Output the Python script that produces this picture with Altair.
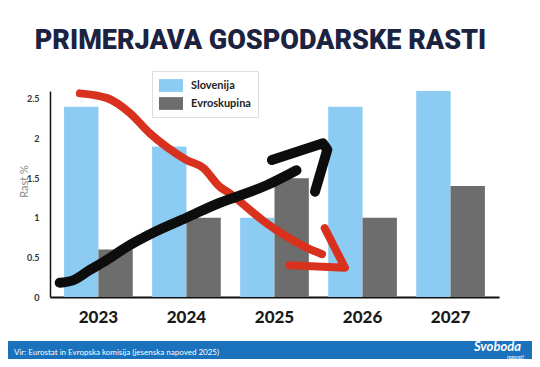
import altair as alt
import pandas as pd

# ---- data ----
years = ["2023", "2024", "2025", "2026", "2027"]
slovenija = [2.4, 1.9, 1.0, 2.4, 2.6]
evroskupina = [0.6, 1.0, 1.5, 1.0, 1.4]
series = ["Slovenija", "Evroskupina"]

# hand-drawn arrows (x in fractional years, y in growth %)
red_x = [2022.79, 2023.10, 2023.36, 2023.58, 2023.78, 2024.00, 2024.19, 2024.38,
         2024.49, 2024.72, 2024.91, 2025.14, 2025.37, 2025.54]
red_y = [2.57, 2.51, 2.32, 2.07, 1.89, 1.73, 1.63, 1.39, 1.31, 1.10, 0.93, 0.76, 0.62, 0.54]
red_head_x = [2025.57, 2025.80, 2025.17]
red_head_y = [0.87, 0.37, 0.40]
black_x = [2022.56, 2022.71, 2022.90, 2023.10, 2023.32, 2023.62, 2024.00, 2024.38,
           2024.53, 2024.91, 2025.25]
black_y = [0.18, 0.21, 0.34, 0.47, 0.63, 0.81, 1.00, 1.19, 1.25, 1.41, 1.60]
black_head_x = [2024.97, 2025.55, 2025.60, 2025.46]
black_head_y = [1.73, 1.94, 1.86, 1.33]

title_text = "PRIMERJAVA GOSPODARSKE RASTI"
source_text = "Vir: Eurostat in Evropska komisija (jesenska napoved 2025)"

# ---- tables ----
bars = pd.DataFrame({
    "leto": years * 2,
    "serija": [series[0]] * len(years) + [series[1]] * len(years),
    "rast": slovenija + evroskupina,
})

def stroke_df(xs, ys, name):
    return pd.DataFrame({"x": xs, "y": ys, "i": list(range(len(xs))), "s": name})

red_body = stroke_df(red_x, red_y, "rb")
red_head = stroke_df(red_head_x, red_head_y, "rh")
black_body = stroke_df(black_x, black_y, "bb")
black_head = stroke_df(black_head_x, black_head_y, "bh")

FONT = "Lato"
yscale = alt.Scale(domain=[0, 2.6], nice=False, zero=True)
xq = alt.Scale(domain=[2022.45, 2027.55], nice=False, zero=False)

bar_layer = alt.Chart(bars).mark_bar().encode(
    x=alt.X("leto:N", sort=years, title=None,
            scale=alt.Scale(paddingInner=0.22, paddingOuter=0.16),
            axis=alt.Axis(labelAngle=0, labelFontSize=17, labelFont=FONT,
                          labelFontWeight=900, labelColor="#1a1a1a",
                          labelPadding=12, ticks=False, domainColor="#111111",
                          domainWidth=2, grid=False)),
    xOffset=alt.XOffset("serija:N", sort=series),
    y=alt.Y("rast:Q", scale=yscale, title="Rast %",
            axis=alt.Axis(values=[0, 0.5, 1, 1.5, 2, 2.5], format="~g",
                          labelFontSize=9, labelFont=FONT, labelFontWeight="bold",
                          labelColor="#333333", labelPadding=11, ticks=False,
                          domainColor="#111111", domainWidth=1.5, grid=False,
                          titleFont=FONT, titleFontSize=11, titleFontWeight="normal",
                          titleColor="#8a8a8a", titlePadding=-3, titleY=90)),
    color=alt.Color("serija:N", sort=series,
                    scale=alt.Scale(domain=series, range=["#8ccbf2", "#6d6d6d"]),
                    legend=alt.Legend(title=None, orient="none", legendX=102, legendY=-20,
                                      direction="vertical",
                                      symbolType="M-1,-0.85H2.2V0.85H-1Z", symbolSize=225,
                                      symbolStrokeWidth=0, symbolOpacity=1,
                                      labelFont=FONT, labelFontSize=11,
                                      labelFontWeight="bold", labelColor="#222222",
                                      labelOffset=17, rowPadding=4, padding=7,
                                      strokeColor="#dddddd", fillColor="#ffffff")),
)

def arrow(df, color, width, interp):
    return alt.Chart(df).mark_line(color=color, strokeWidth=width, strokeCap="round",
                                   strokeJoin="round", interpolate=interp).encode(
        x=alt.X("x:Q", scale=xq, axis=None),
        y=alt.Y("y:Q", scale=yscale),
        order="i:Q",
    )

arrows = alt.layer(
    arrow(red_body, "#d8321e", 8, "monotone"),
    arrow(red_head, "#d8321e", 8, "linear"),
    arrow(black_body, "#0d0d0d", 10, "monotone"),
    arrow(black_head, "#0d0d0d", 10, "linear"),
)

one = pd.DataFrame({"a": [0]})
footer = alt.Chart(one).mark_rect(color="#1a72bd").encode(
    x=alt.value(-42), x2=alt.value(482), y=alt.value(250), y2=alt.value(270))
src = alt.Chart(one).mark_text(align="left", baseline="middle", color="#ffffff",
                               fontSize=8, font=FONT, text=source_text).encode(
    x=alt.value(-36), y=alt.value(262))
logo = alt.Chart(one).mark_text(align="right", baseline="middle", color="#ffffff",
                                fontSize=13, font=FONT, fontStyle="italic",
                                fontWeight="bold", text="Svoboda").encode(
    x=alt.value(471), y=alt.value(256))
logo2 = alt.Chart(one).mark_text(align="right", baseline="bottom", color="#ffffff",
                                 fontSize=6, font=FONT, fontStyle="italic",
                                 text="naprej!").encode(
    x=alt.value(474), y=alt.value(268.9))

chart = alt.layer(bar_layer, arrows, footer, src, logo, logo2).resolve_scale(
    x="independent"
).properties(
    width=449, height=206,
    autosize=alt.AutoSizeParams(type="none"),
    padding={"left": 42, "top": 83, "right": 33, "bottom": 62},
    title=alt.TitleParams(title_text, font="Roboto", fontSize=27, fontWeight=900,
                          color="#1b2340", anchor="middle", dx=-14, offset=16),
    background="#ffffff",
).configure_view(stroke=None)

chart.save("out.html", embed_options={"renderer": "svg", "actions": False})
